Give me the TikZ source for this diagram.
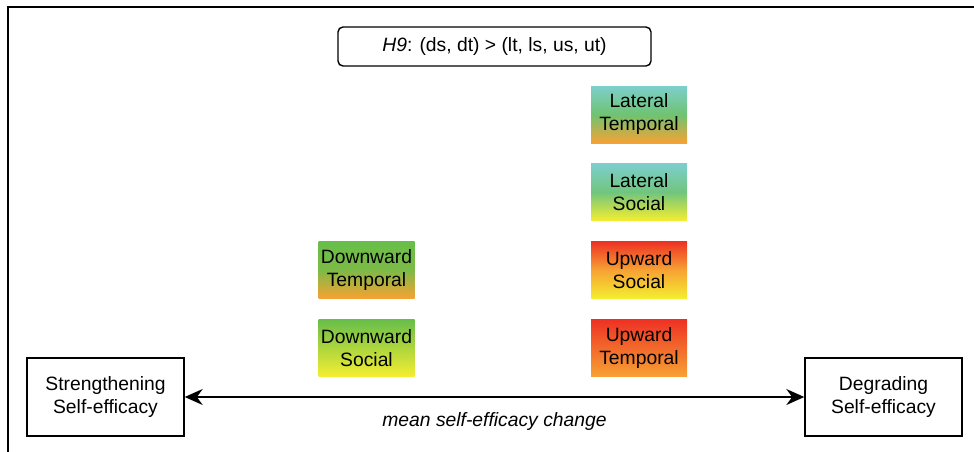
\documentclass[tikz,border=0pt]{standalone}
\usepackage{fontspec}
\setmainfont{Liberation Sans}
\usetikzlibrary{arrows.meta}
\definecolor{cteal}{HTML}{7DCFCD}
\definecolor{cgreen}{HTML}{68BE4A}
\definecolor{cred}{HTML}{EE3124}
\definecolor{corange}{HTML}{F7A233}
\definecolor{cyellow}{HTML}{F4EE30}
\begin{document}
\begin{tikzpicture}[x=1pt,y=-1pt,
  lbl/.style={font=\fontsize{19.3}{23}\selectfont, align=center, inner sep=0pt},
  gbox/.style={minimum width=96pt, minimum height=57pt, lbl},
  endbox/.style={draw, line width=1.4pt, minimum width=157pt, minimum height=78pt, lbl}]
\useasboundingbox (0,0) rectangle (974,452);
\draw[line width=2pt] (8,452) -- (8,7.5) -- (974,7.5);
\node[draw, line width=1.4pt, rounded corners=5pt, minimum width=313pt, minimum height=39pt, lbl] (h) at (494.5,46.5) {\textit{H9}: (ds, dt) > (lt, ls, us, ut)};
\node[gbox, top color=cteal, bottom color=corange, middle color=cgreen!70!cteal] (lt) at (639,114.5) {Lateral\\Temporal};
\node[gbox, top color=cteal, bottom color=cyellow, middle color=cgreen!60!cteal] (ls) at (639,192) {Lateral\\Social};
\node[gbox, top color=cred, bottom color=cyellow, middle color=corange] (us) at (639,270) {Upward\\Social};
\node[gbox, top color=cred, bottom color=corange] (ut) at (639,348) {Upward\\Temporal};
\node[gbox, top color=cgreen, bottom color=corange, middle color=cgreen!85!corange] (dt) at (366.5,270) {Downward\\Temporal};
\node[gbox, top color=cgreen, bottom color=cyellow] (dsoc) at (366.5,348) {Downward\\Social};
\node[endbox] (s) at (105.5,397) {Strengthening\\Self-efficacy};
\node[endbox] (d) at (883.5,397) {Degrading\\Self-efficacy};
\draw[line width=1.6pt, {Stealth[length=18pt,width=16pt]}-{Stealth[length=18pt,width=16pt]}] (s) -- (d) node[midway, below=15pt, lbl] (m) {\textit{mean self-efficacy change}};
\end{tikzpicture}
\end{document}
